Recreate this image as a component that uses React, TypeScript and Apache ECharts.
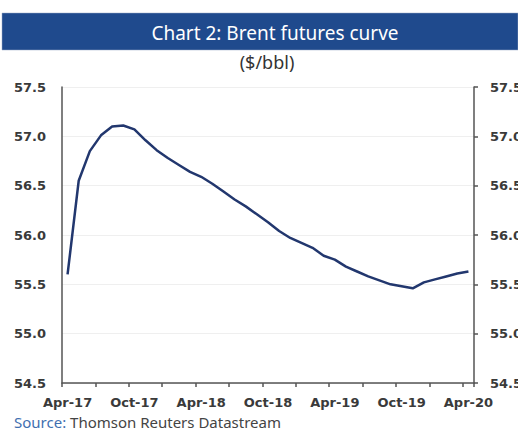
import React, { useEffect, useRef } from "react";
import * as echarts from "echarts";

const months = [
  "Apr-17","May-17","Jun-17","Jul-17","Aug-17","Sep-17","Oct-17","Nov-17","Dec-17",
  "Jan-18","Feb-18","Mar-18","Apr-18","May-18","Jun-18","Jul-18","Aug-18","Sep-18",
  "Oct-18","Nov-18","Dec-18","Jan-19","Feb-19","Mar-19","Apr-19","May-19","Jun-19",
  "Jul-19","Aug-19","Sep-19","Oct-19","Nov-19","Dec-19","Jan-20","Feb-20","Mar-20","Apr-20",
];

const brent = [
  55.60, 56.55, 56.85, 57.01, 57.10, 57.11, 57.07, 56.96, 56.86,
  56.78, 56.71, 56.64, 56.59, 56.52, 56.44, 56.36, 56.29, 56.21,
  56.13, 56.04, 55.97, 55.92, 55.87, 55.79, 55.75, 55.68, 55.63,
  55.58, 55.54, 55.50, 55.48, 55.46, 55.52, 55.55, 55.58, 55.61, 55.63,
];

const titleText = "Chart 2: Brent futures curve";
const subtitleText = "($/bbl)";
const sourceLabel = "Source:";
const sourceText = " Thomson Reuters Datastream";

export default function App() {
  const ref = useRef<HTMLDivElement>(null);
  useEffect(() => {
    if (!ref.current) return;
    const chart = echarts.init(ref.current, undefined, { renderer: "svg" });
    const axisLabelStyle = {
      fontFamily: "DejaVu Sans",
      fontWeight: "bold" as const,
      fontSize: 13,
      color: "#3a3a3a",
    };
    const yCommon = {
      type: "value" as const,
      min: 54.5,
      max: 57.5,
      interval: 0.5,
      axisLine: { show: true, lineStyle: { color: "#555", width: 1.5 } },
    };
    chart.setOption({
      animation: false,
      backgroundColor: "#ffffff",
      grid: {
        left: 62,
        right: 44,
        top: 87,
        bottom: 48,
        containLabel: false,
        outerBoundsMode: "none",
      },
      xAxis: {
        type: "category",
        data: months,
        boundaryGap: true,
        axisLine: { lineStyle: { color: "#555", width: 1.5 } },
        axisTick: { show: true, interval: 2, length: 4, lineStyle: { color: "#555", width: 1.5 } },
        axisLabel: {
          ...axisLabelStyle,
          interval: 5,
          margin: 13,
        },
        splitLine: { show: false },
      },
      yAxis: [
        {
          ...yCommon,
          position: "left",
          axisTick: { show: false },
          axisLabel: { ...axisLabelStyle, margin: 16, formatter: (v: number) => v.toFixed(1) },
          splitLine: { show: true, lineStyle: { color: "#efefef", width: 1 } },
        },
        {
          ...yCommon,
          position: "right",
          axisTick: { show: true, length: 4, lineStyle: { color: "#555", width: 1.5 } },
          axisLabel: { ...axisLabelStyle, margin: 16, formatter: (v: number) => v.toFixed(1) },
          splitLine: { show: false },
        },
      ],
      series: [
        {
          type: "line",
          data: brent,
          yAxisIndex: 0,
          symbol: "none",
          lineStyle: { color: "#22376e", width: 2.5 },
          smooth: false,
        },
      ],
      graphic: [
        {
          type: "rect",
          shape: { x: 2, y: 13, width: 516, height: 37 },
          style: { fill: "#1f4a8d", stroke: "#9aa9c4", lineWidth: 0.5 },
        },
        {
          type: "text",
          x: 275,
          y: 32,
          scaleX: 0.95,
          style: {
            text: titleText,
            fill: "#ffffff",
            font: "20px 'Noto Sans'",
            align: "center",
            verticalAlign: "middle",
          },
        },
        {
          type: "text",
          x: 267,
          y: 62,
          style: {
            text: subtitleText,
            fill: "#333333",
            font: "18px 'Noto Sans'",
            align: "center",
            verticalAlign: "middle",
          },
        },
        {
          type: "text",
          x: 14,
          y: 422,
          style: {
            text: `{a|${sourceLabel}}{b|${sourceText}}`,
            rich: {
              a: { fill: "#3f6fb0", font: "15px 'Noto Sans'" },
              b: { fill: "#444444", font: "15px 'Noto Sans'" },
            },
            verticalAlign: "middle",
          },
        },
      ],
    });
    return () => chart.dispose();
  }, []);
  return (
    <div
      ref={ref}
      style={{ position: "fixed", left: 0, top: 0, width: 518, height: 431 }}
    />
  );
}
